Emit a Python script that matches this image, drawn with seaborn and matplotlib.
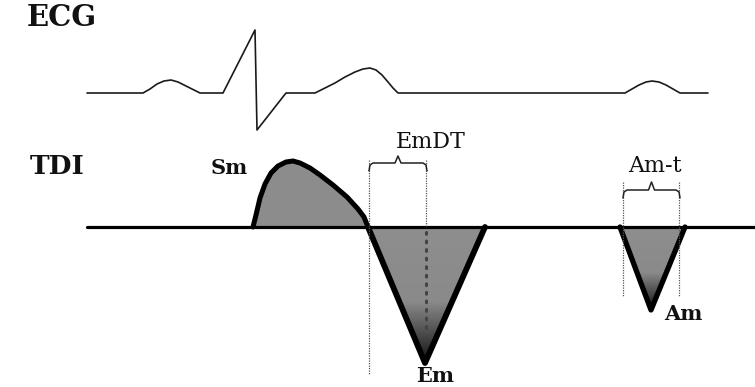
import matplotlib
matplotlib.use("Agg")
import matplotlib.pyplot as plt
import matplotlib.patches as mpatches
from matplotlib.colors import LinearSegmentedColormap
import seaborn as sns
import pandas as pd
import numpy as np

# ── Data (pixel space, y grows downward) ─────────────────────────────────
ECG_X = [87, 143, 150, 157, 164, 171, 178, 186, 194, 200, 223, 255, 257, 286, 315,
         325, 335, 345, 355, 363, 370, 376, 382, 388, 393, 398,
         625, 632, 639, 646, 652, 659, 666, 673, 680, 708]
ECG_Y = [93, 93, 89, 84, 81, 80, 82, 86, 90, 93, 93, 30, 130, 93, 93,
         88, 83, 77, 72, 69, 68, 70, 75, 82, 88, 93,
         93, 89, 85, 82, 81, 82, 85, 89, 93, 93]

SM_X = [253, 256, 260, 265, 271, 278, 286, 293, 300, 310, 320, 333, 347, 358, 364, 368]
SM_Y = [227, 215, 198, 184, 173, 166, 162, 161, 163, 168, 175, 185, 197, 209, 217, 227]

EM_X = [368, 425, 485]
EM_Y = [227, 363, 227]

AM_X = [620, 651, 685]
AM_Y = [227, 310, 227]

BASE_X = [87, 755]
BASE_Y = [227, 227]

# dotted guide lines: (x, y_top, y_bottom)
GUIDES = [(369, 160, 375), (426, 160, 227), (623, 182, 297), (679, 182, 297)]

# braces: (x_left, x_right, y_bar, y_tip)
BRACES = [(369, 427, 163, 156), (623, 680, 190, 182)]

LABELS = [
    ("ECG", 62, 18, True, 21),
    ("TDI", 57, 166, True, 19),
    ("Sm", 229, 168, True, 15),
    ("EmDT", 431, 142, False, 16),
    ("Em", 435, 376, True, 15),
    ("Am-t", 655, 166, False, 16),
    ("Am", 683, 314, True, 15),
]

sns.set_style("white")
plt.rcParams["font.family"] = ["DejaVu Serif"]

fig = plt.figure(figsize=(7.55, 3.87), dpi=100)
ax = fig.add_axes([0, 0, 1, 1])
ax.set_xlim(0, 755)
ax.set_ylim(387, 0)
ax.axis("off")

# ECG trace
ecg = pd.DataFrame({"x": ECG_X, "y": ECG_Y})
sns.lineplot(data=ecg, x="x", y="y", sort=False, estimator=None,
             color="#1a1a1a", linewidth=1.2, ax=ax)

# gray that darkens toward the tip of the downward waves
shade = LinearSegmentedColormap.from_list(
    "shade", [(0, "#8e8e8e"), (0.55, "#8a8a8a"), (0.85, "#3a3a3a"), (1, "#111111")])

for xs, ys, lw, grad in [(SM_X, SM_Y, 3.6, False), (EM_X, EM_Y, 4.2, True),
                         (AM_X, AM_Y, 3.8, True)]:
    if grad:
        poly = mpatches.Polygon(list(zip(xs, ys)), closed=True,
                                facecolor="none", edgecolor="none")
        ax.add_patch(poly)
        g = np.linspace(0, 1, 256).reshape(-1, 1)
        im = ax.imshow(g, cmap=shade, aspect="auto", zorder=2,
                       extent=(min(xs), max(xs), max(ys), min(ys)))
        im.set_clip_path(poly)
    else:
        ax.fill(xs, ys, color="#8c8c8c", zorder=2)
    wave = pd.DataFrame({"x": xs, "y": ys})
    sns.lineplot(data=wave, x="x", y="y", sort=False, estimator=None,
                 color="black", linewidth=lw, ax=ax, zorder=3)

ax.set_xlim(0, 755)
ax.set_ylim(387, 0)

# baseline
sns.lineplot(x=BASE_X, y=BASE_Y, color="black", linewidth=2.3, ax=ax, zorder=4)

# dotted guides
for gx, y0, y1 in GUIDES:
    ax.plot([gx, gx], [y0, y1], color="#555555", linewidth=0.9,
            linestyle=(0, (1, 1)), zorder=5)
# heavy dotted centre line in Em
ax.plot([426, 426], [232, 330], color="#444444", linewidth=2.2,
        linestyle=(0, (0.6, 2.2)), dash_capstyle="round", zorder=5)

# braces
for xl, xr, yb, yt in BRACES:
    xm = (xl + xr) / 2
    bx = [xl, xl + 1, xl + 4, xm - 3, xm, xm + 3, xr - 4, xr - 1, xr]
    by = [yb + 8, yb + 2, yb, yb, yt, yb, yb, yb + 2, yb + 8]
    ax.plot(bx, by, color="#222222", linewidth=1.1, zorder=5)

for txt, x, y, bold, size in LABELS:
    ax.text(x, y, txt, ha="center", va="center", fontsize=size,
            fontweight="bold" if bold else "normal", color="#111111")

fig.savefig("out.png", dpi=100)
